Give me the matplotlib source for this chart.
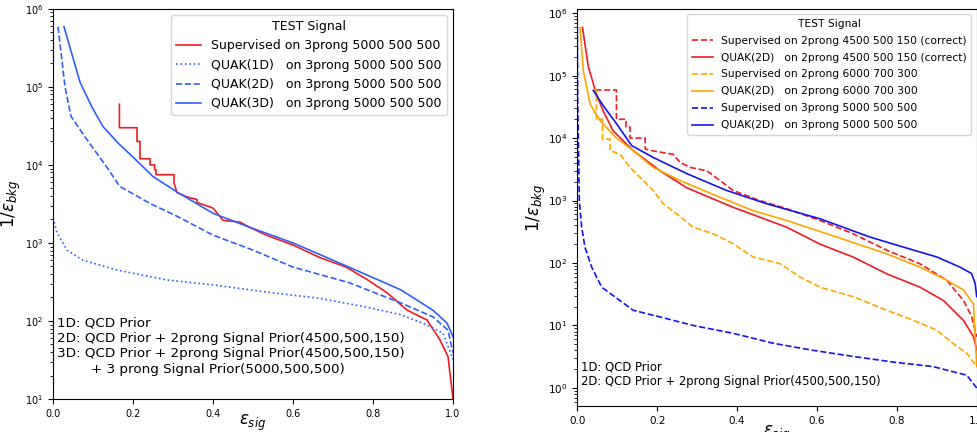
import numpy as np
import matplotlib
matplotlib.use('Agg')
import matplotlib.pyplot as plt

# ---- left panel: test on 3prong 5000 500 500 ----
sup3_x = [0.166, 0.166, 0.21, 0.21, 0.2175, 0.2175, 0.2425, 0.2425, 0.254, 0.254, 0.2575, 0.2575,
          0.3025, 0.3025, 0.31, 0.335, 0.36, 0.36, 0.40, 0.425, 0.4675, 0.49, 0.533, 0.6, 0.667,
          0.733, 0.785, 0.835, 0.885, 0.935, 0.9675, 0.9875, 1.0]
sup3_y = [6e4, 3e4, 3e4, 2e4, 2e4, 1.2e4, 1.2e4, 1e4, 1e4, 8.7e3, 8.7e3, 7.5e3,
          7.5e3, 5.9e3, 4.4e3, 3.9e3, 3.6e3, 3.3e3, 2.8e3, 1.95e3, 1.85e3, 1.6e3, 1.26e3, 940, 650,
          490, 340, 230, 138, 103, 57, 35, 10]

q1d_x = [0.0, 0.01, 0.035, 0.075, 0.16, 0.285, 0.40, 0.533, 0.667, 0.785, 0.87, 0.935, 0.975, 1.0]
q1d_y = [2.1e3, 1.35e3, 810, 600, 450, 335, 290, 235, 195, 150, 120, 89, 70, 32]

q2d_x = [0.0125, 0.03, 0.045, 0.085, 0.135, 0.167, 0.243, 0.31, 0.40, 0.5, 0.6, 0.74, 0.87,
         0.95, 0.9875, 1.0]
q2d_y = [5.9e5, 1e5, 4.2e4, 2.1e4, 9.3e3, 5.3e3, 3.2e3, 2.2e3, 1.26e3, 810, 490, 310, 170,
         113, 76, 39]

q3d_x = [0.0275, 0.0675, 0.0975, 0.125, 0.163, 0.2, 0.25, 0.31, 0.40, 0.49, 0.6, 0.74, 0.87,
         0.95, 0.985, 1.0]
q3d_y = [5.9e5, 1.15e5, 5.5e4, 3.1e4, 1.9e4, 1.26e4, 7.1e3, 4.5e3, 2.4e3, 1.6e3, 1e3, 490,
         250, 137, 94, 63]

# ---- right panel ----
sup45_x = [0.045, 0.098, 0.098, 0.122, 0.122, 0.132, 0.132, 0.17, 0.17, 0.186, 0.24, 0.257,
           0.282, 0.324, 0.357, 0.39, 0.424, 0.457, 0.524, 0.608, 0.69, 0.775, 0.858, 0.925,
           0.967, 0.987, 1.0]
sup45_y = [5.9e4, 5.9e4, 2e4, 2e4, 1.5e4, 1.5e4, 1e4, 1e4, 6.7e3, 6.3e3, 5.5e3, 4.1e3,
           3.4e3, 3e3, 2.1e3, 1.45e3, 1.2e3, 1e3, 740, 480, 295, 160, 97, 53,
           25, 14, 6.6]

q45_x = [0.013, 0.0275, 0.048, 0.065, 0.09, 0.14, 0.207, 0.274, 0.39, 0.524, 0.608, 0.69,
         0.775, 0.858, 0.917, 0.967, 0.992, 1.0]
q45_y = [5.9e5, 1.4e5, 5e4, 2.7e4, 1.3e4, 6.3e3, 3e3, 1.6e3, 780, 375, 200, 125,
         67, 41, 25, 12, 6.6, 4]

sup60_x = [0.04, 0.048, 0.048, 0.063, 0.063, 0.082, 0.082, 0.107, 0.132, 0.165, 0.19, 0.215,
           0.249, 0.29, 0.34, 0.39, 0.44, 0.507, 0.557, 0.608, 0.69, 0.775, 0.84, 0.9,
           0.94, 0.975, 1.0]
sup60_y = [5.9e4, 5.9e4, 2e4, 2e4, 9.6e3, 9.6e3, 6.3e3, 5.5e3, 3.4e3, 2.1e3, 1.45e3, 890,
           610, 375, 295, 204, 125, 98, 60, 41, 29, 17.5, 12.2, 8.4,
           5.2, 3.6, 2.2]

q60_x = [0.0067, 0.015, 0.032, 0.057, 0.098, 0.14, 0.19, 0.257, 0.357, 0.44, 0.524, 0.65,
         0.775, 0.858, 0.925, 0.967, 0.992, 1.0]
q60_y = [5.9e5, 1.2e5, 3.5e4, 1.9e4, 1e4, 6.3e3, 3.4e3, 2.1e3, 1.13e3, 690, 480, 260,
         140, 86, 53, 37, 22, 2.2]

sup3r_x = [0.0, 0.001, 0.005, 0.011, 0.019, 0.036, 0.061, 0.107, 0.14, 0.207, 0.29, 0.39,
           0.49, 0.59, 0.69, 0.79, 0.89, 0.975, 1.0]
sup3r_y = [6e5, 4e4, 1e3, 375, 180, 86, 41, 25, 17.5, 13.7, 10, 7.5,
           5.2, 4.0, 3.2, 2.6, 2.2, 1.6, 1.0]

q3r_x = [0.04, 0.065, 0.099, 0.136, 0.19, 0.274, 0.374, 0.474, 0.608, 0.733, 0.816, 0.9,
         0.958, 0.987, 0.996, 1.0]
q3r_y = [5.8e4, 3.3e4, 1.67e4, 7.6e3, 4.9e3, 2.7e3, 1.45e3, 890, 510, 260, 180, 125,
         86, 68, 47, 29]

fig = plt.figure(figsize=(9.78, 4.32), dpi=100)
ax1 = fig.add_axes([0.0542, 0.0764, 0.409, 0.903])
ax2 = fig.add_axes([0.5903, 0.0602, 0.4084, 0.919])

lblue = '#3060f8'
ax1.plot(sup3_x, sup3_y, color='#f01c24', lw=1.2, label='Supervised on 3prong 5000 500 500')
ax1.plot(q1d_x, q1d_y, color=lblue, lw=1.2, ls=':', label='QUAK(1D)   on 3prong 5000 500 500')
ax1.plot(q2d_x, q2d_y, color=lblue, lw=1.2, ls='--', label='QUAK(2D)   on 3prong 5000 500 500')
ax1.plot(q3d_x, q3d_y, color=lblue, lw=1.2, label='QUAK(3D)   on 3prong 5000 500 500')
ax1.set_yscale('log')
ax1.set_xlim(0, 1)
ax1.set_ylim(10, 1e6)
ax1.legend(title='TEST Signal', fontsize=9, title_fontsize=9, loc='upper right')
ax1.text(0.01, 0.136, '1D: QCD Prior\n2D: QCD Prior + 2prong Signal Prior(4500,500,150)\n'
         '3D: QCD Prior + 2prong Signal Prior(4500,500,150)\n'
         '        + 3 prong Signal Prior(5000,500,500)',
         transform=ax1.transAxes, fontsize=9.7, linespacing=1.25, va='center', ha='left')
ax1.set_xlabel(r'$\epsilon_{sig}$', fontsize=12)
ax1.set_ylabel(r'$1/\epsilon_{bkg}$', fontsize=12)
ax1.xaxis.set_label_coords(0.5, -0.036)
ax1.yaxis.set_label_coords(-0.075, 0.5)
ax1.tick_params(labelsize=7)

ax2.plot(sup45_x, sup45_y, color='#f01c24', lw=1.2, ls='--', label='Supervised on 2prong 4500 500 150 (correct)')
ax2.plot(q45_x, q45_y, color='#f01c24', lw=1.2, label='QUAK(2D)   on 2prong 4500 500 150 (correct)')
ax2.plot(sup60_x, sup60_y, color='orange', lw=1.2, ls='--', label='Supervised on 2prong 6000 700 300')
ax2.plot(q60_x, q60_y, color='orange', lw=1.2, label='QUAK(2D)   on 2prong 6000 700 300')
ax2.plot(sup3r_x, sup3r_y, color='#1414f0', lw=1.2, ls='--', label='Supervised on 3prong 5000 500 500')
ax2.plot(q3r_x, q3r_y, color='#1414f0', lw=1.2, label='QUAK(2D)   on 3prong 5000 500 500')
ax2.set_yscale('log')
ax2.set_xlim(0, 1)
ax2.legend(title='TEST Signal', fontsize=7.7, title_fontsize=7.7, loc='upper right',
           labelspacing=0.65)
ax2.text(0.01, 0.079, '1D: QCD Prior\n2D: QCD Prior + 2prong Signal Prior(4500,500,150)',
         transform=ax2.transAxes, fontsize=8.4, linespacing=1.13, va='center', ha='left')
ax2.set_xlabel(r'$\epsilon_{sig}$', fontsize=12)
ax2.set_ylabel(r'$1/\epsilon_{bkg}$', fontsize=12)
ax2.xaxis.set_label_coords(0.5, -0.045)
ax2.yaxis.set_label_coords(-0.073, 0.5)
ax2.tick_params(labelsize=7.5)

fig.savefig('out.png', dpi=100)
